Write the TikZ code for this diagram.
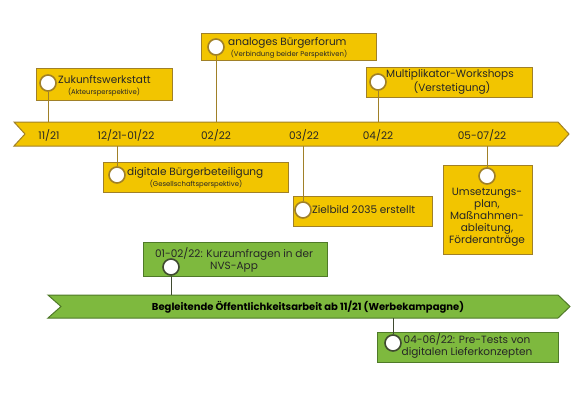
\documentclass[tikz,border=0pt]{standalone}
\usepackage{fontspec}
\setmainfont{Poppins}
\definecolor{ygold}{HTML}{F2C500}
\definecolor{ybord}{HTML}{A08028}
\definecolor{gfill}{HTML}{7EB93E}
\definecolor{gbord}{HTML}{4F7A28}
\definecolor{gline}{HTML}{3F4A30}
\definecolor{tcol}{HTML}{262626}
\tikzset{
  ybox/.style={draw=ybord, fill=ygold, line width=1pt},
  gbox/.style={draw=gbord, fill=gfill, line width=1pt},
  ydot/.style={circle, draw=ybord, fill=white, line width=1.6pt, minimum size=16pt, inner sep=0pt},
  gdot/.style={circle, draw=gline, fill=white, line width=1.6pt, minimum size=16pt, inner sep=0pt},
  ylink/.style={draw=ybord, line width=1pt},
  glink/.style={draw=gline, line width=1pt},
  big/.style={font=\fontsize{10.5}{12}\selectfont, text=tcol, inner sep=0pt},
  small/.style={font=\fontsize{6.9}{7.5}\selectfont, text=tcol, inner sep=0pt},
  tick/.style={font=\fontsize{10.5}{12}\selectfont, text=tcol, inner sep=0pt},
}
\begin{document}
\begin{tikzpicture}[x=1pt,y=-1pt]
\useasboundingbox (0,0) rectangle (575,400);
% yellow timeline arrow
\path[ybox] (14,122) -- (558,122) -- (569,134) -- (558,146) -- (14,146) -- (25,134) -- cycle;
\node[tick] (t1) at (49,135) {11/21};
\node[tick] (t2) at (126,135) {12/21-01/22};
\node[tick] (t3) at (216,135) {02/22};
\node[tick] (t4) at (304,135) {03/22};
\node[tick] (t5) at (378,135) {04/22};
\node[tick] (t6) at (482,135) {05-07/22};
\coordinate (a1) at (48,122);
\coordinate (a3) at (216,122);
\coordinate (a5) at (378,122);
\coordinate (a2) at (117,146);
\coordinate (a4) at (303,146);
\coordinate (a6) at (487,146);

% Zukunftswerkstatt
\path[ybox] (36,68) rectangle (172,100);
\node[ydot] (d1) at (48,83) {};
\node[big, anchor=west] (z1) at (58,80) {Zukunftswerkstatt};
\node[small] (z2) at (104,92) {(Akteursperspektive)};
\draw[ylink] (d1) -- (a1);

% analoges Buergerforum
\path[ybox] (201,33) rectangle (376,60);
\node[ydot] (d3) at (216,47) {};
\node[big, anchor=west] (f1) at (228,43) {analoges Bürgerforum};
\node[small] (f2) at (289,54) {(Verbindung beider Perspektiven)};
\draw[ylink] (d3) -- (a3);

% Multiplikator
\path[ybox] (366,67) rectangle (532,97);
\node[ydot] (d5) at (378,82) {};
\node[big] (m1) at (450,75) {Multiplikator-Workshops};
\node[big] (m2) at (452,88) {(Verstetigung)};
\draw[ylink] (d5) -- (a5);

% digitale Buergerbeteiligung
\path[ybox] (103,162) rectangle (288,192);
\node[ydot] (d2) at (117,175) {};
\node[big, anchor=west] (b1) at (127,173) {digitale Bürgerbeteiligung};
\node[small] (b2) at (196,184) {(Gesellschaftsperspektive)};
\draw[ylink] (a2) -- (d2);

% Zielbild
\path[ybox] (293,196) rectangle (432,226);
\node[ydot] (d4) at (303,210) {};
\node[big, anchor=west] (zb) at (312,210) {Zielbild 2035 erstellt};
\draw[ylink] (a4) -- (d4);

% Umsetzungsplan
\path[ybox] (443,165) rectangle (532,254);
\node[ydot] (d6) at (487,176) {};
\node[big, align=center] (u) at (487,217) {Umsetzungs-\\plan,\\Maßnahmen-\\ableitung,\\Förderanträge};
\draw[ylink] (a6) -- (d6);

% green arrow
\path[gbox] (48,295) -- (558,295) -- (570,306.5) -- (558,318) -- (48,318) -- (61,306.5) -- cycle;
\node[font=\fontsize{10}{12}\selectfont\bfseries, text=black, inner sep=0pt] (g) at (308,307) {Begleitende Öffentlichkeitsarbeit ab 11/21 (Werbekampagne)};
\coordinate (ga) at (171,295);
\coordinate (gb) at (393,318);

% Kurzumfragen
\path[gbox] (143,242) rectangle (327,276);
\node[big, align=center] (k) at (234,259.5) {01-02/22: Kurzumfragen in der\\NVS-App};
\node[gdot] (dk) at (171,267) {};
\draw[glink] (dk) -- (ga);

% Pre-Tests
\path[gbox] (377,332) rectangle (558,362);
\node[gdot] (dp) at (393,343) {};
\node[big, align=center] (p) at (467,346) {04-06/22: Pre-Tests von\\digitalen Lieferkonzepten};
\draw[glink] (gb) -- (dp);
\end{tikzpicture}
\end{document}
